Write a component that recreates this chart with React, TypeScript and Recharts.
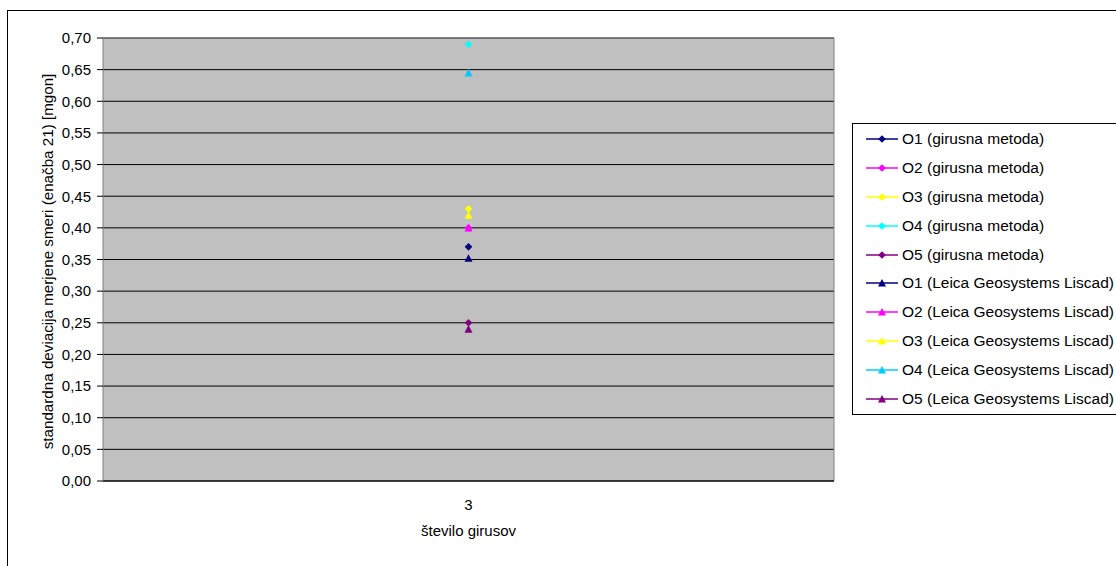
import React from 'react';
import { ComposedChart, Line, XAxis, YAxis, CartesianGrid, Legend, ReferenceLine } from 'recharts';

const categories = ['3'];

const o1Girusna = [0.37];
const o2Girusna = [0.4];
const o3Girusna = [0.43];
const o4Girusna = [0.69];
const o5Girusna = [0.25];
const o1Leica = [0.352];
const o2Leica = [0.4];
const o3Leica = [0.42];
const o4Leica = [0.645];
const o5Leica = [0.24];

const yTicks = [0, 0.05, 0.1, 0.15, 0.2, 0.25, 0.3, 0.35, 0.4, 0.45, 0.5, 0.55, 0.6, 0.65, 0.7];

const seriesNames = [
  'O1 (girusna metoda)',
  'O2 (girusna metoda)',
  'O3 (girusna metoda)',
  'O4 (girusna metoda)',
  'O5 (girusna metoda)',
  'O1 (Leica Geosystems Liscad)',
  'O2 (Leica Geosystems Liscad)',
  'O3 (Leica Geosystems Liscad)',
  'O4 (Leica Geosystems Liscad)',
  'O5 (Leica Geosystems Liscad)',
];
const seriesColors = [
  '#000080', '#FF00FF', '#FFFF00', '#00FFFF', '#800080',
  '#000080', '#FF00FF', '#FFFF00', '#00CCFF', '#800080',
];
const seriesShapes = [
  'diamond', 'diamond', 'diamond', 'diamond', 'diamond',
  'triangle', 'triangle', 'triangle', 'triangle', 'triangle',
];
const seriesValues = [
  o1Girusna, o2Girusna, o3Girusna, o4Girusna, o5Girusna,
  o1Leica, o2Leica, o3Leica, o4Leica, o5Leica,
];

const data = categories.map((c, i) => {
  const row: Record<string, any> = { cat: c };
  seriesValues.forEach((vals, s) => {
    row['s' + s] = vals[i];
  });
  return row;
});

const FONT = '"Liberation Sans", Arial, sans-serif';

function markerPath(shape: string, cx: number, cy: number) {
  if (shape === 'diamond') {
    return `M${cx},${cy - 3.8}L${cx + 3.8},${cy}L${cx},${cy + 3.8}L${cx - 3.8},${cy}Z`;
  }
  return `M${cx},${cy - 4}L${cx + 4},${cy + 3.6}L${cx - 4},${cy + 3.6}Z`;
}

function makeDot(s: number) {
  return (props: any) => {
    const { cx, cy, index } = props;
    if (cx == null || cy == null) return <g key={`d-${s}-${index}`} />;
    return (
      <path
        key={`d-${s}-${index}`}
        d={markerPath(seriesShapes[s], cx, cy)}
        fill={seriesColors[s]}
        stroke="none"
      />
    );
  };
}

const renderLegend = () => (
  <div
    style={{
      border: '1px solid #000',
      background: '#fff',
      boxSizing: 'border-box',
      width: 320,
      height: 292,
      paddingTop: 0.5,
      paddingLeft: 13,
      fontFamily: FONT,
      fontSize: 15.5,
      color: '#000',
    }}
  >
    {seriesNames.map((name, s) => (
      <div key={name} style={{ height: 28.9, display: 'flex', alignItems: 'center', whiteSpace: 'nowrap' }}>
        <svg width={32} height={10} style={{ marginRight: 4, display: 'block' }}>
          <line x1={0} y1={5} x2={32} y2={5} stroke={seriesColors[s]} strokeWidth={1.5} />
          <path d={markerPath(seriesShapes[s], 16, 5)} fill={seriesColors[s]} />
        </svg>
        <span>{name}</span>
      </div>
    ))}
  </div>
);

const YLabel = (props: any) => {
  const vb = props.viewBox || { x: 0, y: 0, width: 0, height: 0 };
  const x = vb.x + 52.5;
  const y = vb.y + vb.height / 2 + 2;
  return (
    <text x={x} y={y} transform={`rotate(-90, ${x}, ${y})`} textAnchor="middle" fontSize={15.2} fontFamily={FONT} fill="#000">
      standardna deviacija merjene smeri (enačba 21) [mgon]
    </text>
  );
};

const XLabel = (props: any) => {
  const vb = props.viewBox || { x: 0, y: 0, width: 0, height: 0 };
  return (
    <text x={vb.x + vb.width / 2} y={vb.y + 55} textAnchor="middle" fontSize={15} fontFamily={FONT} fill="#000">
      število girusov
    </text>
  );
};

export default function App() {
  return (
    <div style={{ position: 'absolute', left: 0, top: 0, width: 1116, height: 566, overflow: 'hidden', background: '#fff' }}>
      <div
        style={{
          position: 'absolute',
          left: 7,
          top: 10,
          width: 1400,
          height: 800,
          border: '1px solid #000',
          boxSizing: 'border-box',
        }}
      />
      <div style={{ position: 'absolute', left: 0, top: 0 }}>
        <ComposedChart
          width={1116}
          height={566}
          data={data}
          margin={{ top: 38, right: 282, bottom: 0, left: 0 }}
          style={{ fontFamily: FONT }}
        >
          <CartesianGrid vertical={false} stroke="#000" fill="#C0C0C0" fillOpacity={1} />
          <CartesianGrid
            horizontal={false}
            stroke="#808080"
            verticalCoordinatesGenerator={({ offset }: any) => [offset.left + offset.width]}
          />
          <ReferenceLine y={0.7} stroke="#808080" />
          <XAxis
            dataKey="cat"
            tickLine={false}
            axisLine={{ stroke: '#000' }}
            tickSize={0}
            tickMargin={18}
            height={85}
            tick={{ fill: '#000', fontSize: 15, fontFamily: FONT }}
            label={<XLabel />}
          />
          <YAxis
            domain={[0, 0.7]}
            ticks={yTicks}
            interval={0}
            width={103}
            tickSize={6}
            tickMargin={6}
            tickLine={{ stroke: '#000' }}
            axisLine={{ stroke: '#808080' }}
            tick={{ fill: '#000', fontSize: 15, fontFamily: FONT }}
            tickFormatter={(v: number) => v.toFixed(2).replace('.', ',')}
            label={<YLabel />}
          />
          <Legend
            layout="horizontal"
            verticalAlign="middle"
            align="center"
            wrapperStyle={{ left: 852, top: 123, width: 320, height: 292 }}
            content={renderLegend}
          />
          {seriesNames.map((name, s) => (
            <Line
              key={name}
              name={name}
              dataKey={'s' + s}
              stroke={seriesColors[s]}
              strokeWidth={1.5}
              dot={makeDot(s)}
              activeDot={false}
              isAnimationActive={false}
            />
          ))}
        </ComposedChart>
      </div>
    </div>
  );
}
